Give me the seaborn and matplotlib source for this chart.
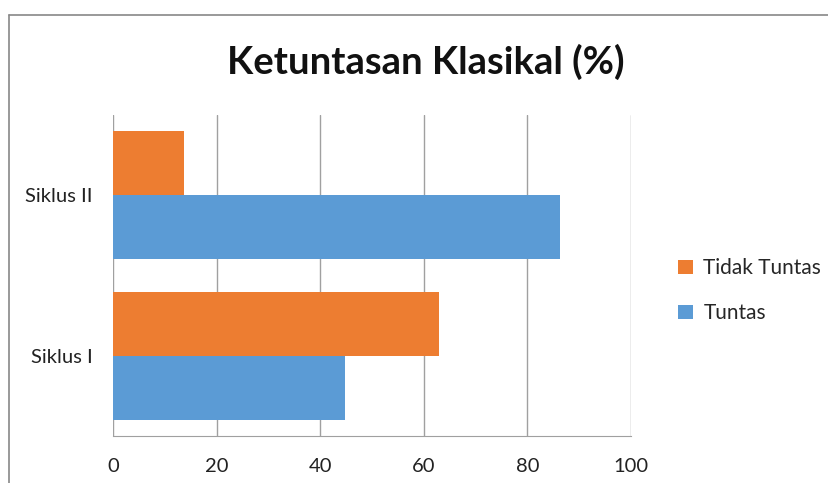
import pandas as pd
import matplotlib.pyplot as plt
import seaborn as sns
from matplotlib.lines import Line2D

# data
siklus = ['Siklus II', 'Siklus I']
status = ['Tidak Tuntas', 'Tuntas']
tuntas = [86.2, 44.8]
tidak_tuntas = [13.7, 63.0]
x_ticks = [0, 20, 40, 60, 80, 100]

df = pd.DataFrame({
    'siklus': siklus * 2,
    'status': ['Tuntas'] * 2 + ['Tidak Tuntas'] * 2,
    'nilai': tuntas + tidak_tuntas,
})

sns.set_style('white')
plt.rcParams['font.family'] = ['Lato', 'DejaVu Sans']

fig = plt.figure(figsize=(8.29, 4.83), dpi=100)
ax = fig.add_axes([0.1363, 0.0973, 0.6249, 0.6646])

sns.barplot(data=df, x='nilai', y='siklus', hue='status', order=siklus,
            hue_order=status, orient='h', width=0.8, linewidth=0,
            palette={'Tidak Tuntas': '#ED7D31', 'Tuntas': '#5B9BD5'},
            saturation=1, ax=ax, zorder=3)

ax.set_xlim(0, 100)
ax.set_ylim(1.5, -0.5)
ax.set_xticks(x_ticks)
ax.set_xlabel('')
ax.set_ylabel('')
ax.tick_params(axis='x', labelsize=14.5, pad=16, length=0, colors='#222222')
ax.tick_params(axis='y', labelsize=14.5, pad=14.5, length=0, colors='#222222')
ax.grid(axis='x', color='#a0a0a0', linewidth=1)
ax.grid(axis='y', visible=False)
for s in ['top', 'right', 'left']:
    ax.spines[s].set_visible(False)
ax.spines['bottom'].set_color('#a0a0a0')

fig.text(426 / 829, 1 - 62 / 483, 'Ketuntasan Klasikal (%)', fontsize=27.5,
         fontweight='bold', ha='center', va='center', color='#111111')

h, l = ax.get_legend_handles_labels()
ax.legend(h, l, loc='center left', bbox_to_anchor=(1.055, 0.452), frameon=False,
          fontsize=15, handlelength=0.7, handleheight=0.7, handletextpad=0.5,
          labelspacing=1.2)

# chart border
fig.add_artist(Line2D([9 / 829, 1], [1 - 15 / 483, 1 - 15 / 483],
                      color='#888888', linewidth=1.2))
fig.add_artist(Line2D([9 / 829, 9 / 829], [0, 1 - 15 / 483],
                      color='#888888', linewidth=1.2))

fig.savefig('out.png', dpi=100)
